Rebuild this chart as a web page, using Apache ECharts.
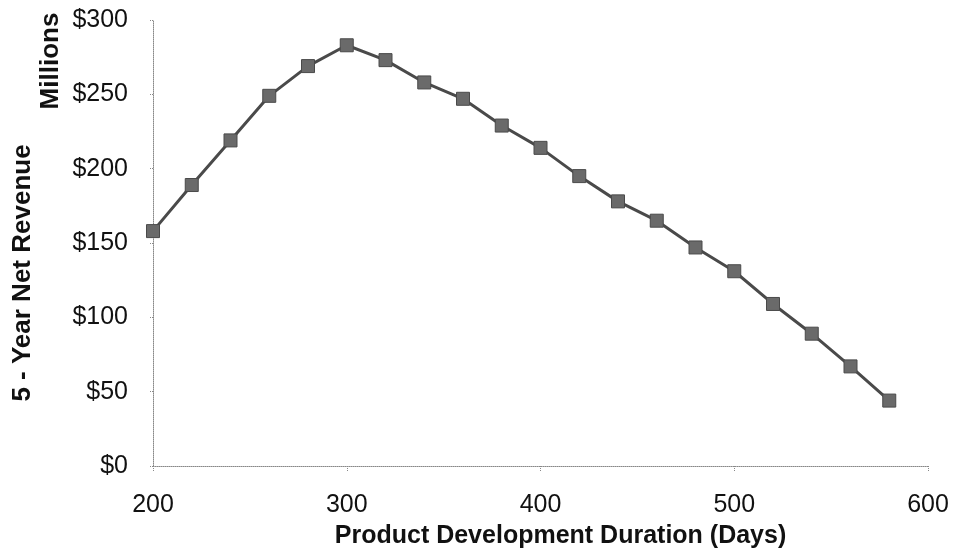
<!DOCTYPE html>
<html>
<head>
<meta charset="utf-8">
<script src="https://cdn.jsdelivr.net/npm/echarts@6/dist/echarts.min.js"></script>
<style>
  html, body { margin: 0; padding: 0; background: #fff; }
  #chart { width: 955px; height: 557px; }
</style>
</head>
<body>
<div id="chart"></div>
<script>
  // durations (days) and 5-year net revenue ($ millions)
  var days = [200, 220, 240, 260, 280, 300, 320, 340, 360, 380, 400, 420, 440, 460, 480, 500, 520, 540, 560, 580];
  var revenue = [158, 189, 219, 249, 269, 283, 273, 258, 247, 229, 214, 195, 178, 165, 147, 131, 109, 89, 67, 44];

  var font = 'Liberation Sans, Arial, sans-serif';
  var chart = echarts.init(document.getElementById('chart'));

  var option = {
    animation: false,
    grid: { left: 153, right: 27, top: 20, bottom: 91 },
    xAxis: {
      type: 'value',
      min: 200, max: 600, interval: 100,
      name: 'Product Development Duration (Days)',
      nameLocation: 'middle',
      nameGap: 58,
      nameTextStyle: { fontFamily: font, fontSize: 25, fontWeight: 'bold', color: '#111', padding: [0, 0, 0, 40] },
      axisLine: { lineStyle: { color: '#888', type: 'dotted', width: 1 } },
      axisTick: { show: true, length: 5, lineStyle: { color: '#888', type: 'dotted' } },
      axisLabel: { fontFamily: font, fontSize: 25, color: '#111', margin: 27 },
      splitLine: { show: false }
    },
    yAxis: {
      type: 'value',
      min: 0, max: 300, interval: 50,
      axisLine: { show: true, lineStyle: { color: '#888', type: 'dotted', width: 1 } },
      axisTick: { show: true, length: 4, lineStyle: { color: '#888', type: 'dotted' } },
      axisLabel: { fontFamily: font, fontSize: 25, color: '#111', margin: 25, formatter: '${value}' },
      splitLine: { show: false }
    },
    graphic: [
      {
        type: 'text', x: 23, y: 273, rotation: Math.PI / 2,
        style: { text: '5 - Year Net Revenue', fontFamily: font, fontSize: 26, fontWeight: 'bold', fill: '#111', align: 'center', verticalAlign: 'middle' }
      },
      {
        type: 'text', x: 51, y: 61, rotation: Math.PI / 2,
        style: { text: 'Millions', fontFamily: font, fontSize: 26, fontWeight: 'bold', fill: '#111', align: 'center', verticalAlign: 'middle' }
      }
    ],
    series: [{
      type: 'line',
      data: days.map(function (d, i) { return [d, revenue[i]]; }),
      symbol: 'rect',
      symbolSize: 13,
      lineStyle: { color: '#4a4a4a', width: 3 },
      itemStyle: { color: '#6a6a6a', borderColor: '#4a4a4a', borderWidth: 1 }
    }]
  };
  chart.setOption(option);
</script>
</body>
</html>
